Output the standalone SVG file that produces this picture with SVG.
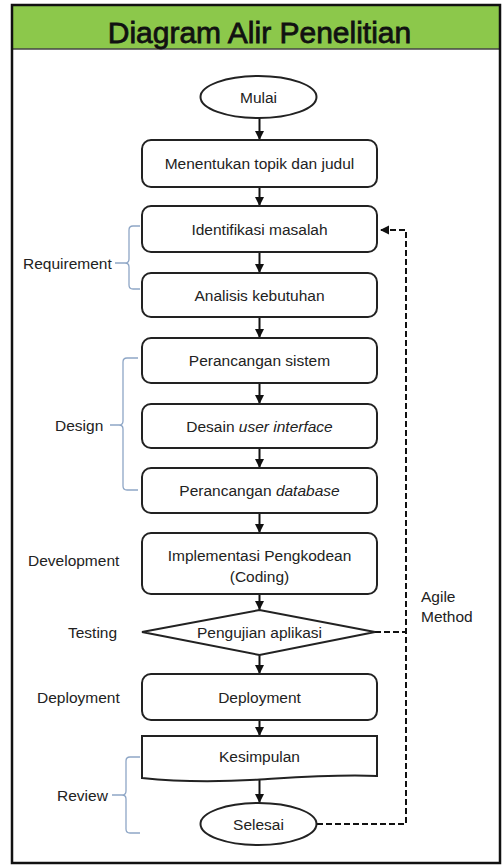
<svg xmlns="http://www.w3.org/2000/svg" width="502" height="866" viewBox="0 0 502 866">
<style>
.box{fill:#fff;stroke:#222;stroke-width:2}
.t{font-family:"Liberation Sans",Arial,sans-serif;font-size:15.5px;fill:#222}
.c{text-anchor:middle}
.it{font-style:italic}
.ln{fill:none;stroke:#111;stroke-width:2}
.dash{fill:none;stroke:#111;stroke-width:2;stroke-dasharray:6 3}
.brace{fill:none;stroke:#8ea6c6;stroke-width:1.3}
</style>
<defs>
<marker id="ah" markerUnits="userSpaceOnUse" markerWidth="10" markerHeight="10" refX="9" refY="5" orient="auto">
<path d="M0,0.5 L9,5 L0,9.5 Z" fill="#111"/>
</marker>
</defs>
<rect x="0" y="0" width="502" height="866" fill="#fff"/>
<g id="frame">
<rect x="12" y="5" width="488" height="44" fill="#8cc84b"/>
<line x1="12" y1="49" x2="500" y2="49" stroke="#444" stroke-width="1.5"/>
<rect x="12" y="5" width="488" height="858" fill="none" stroke="#111" stroke-width="2.5"/>
<text x="259.5" y="43" text-anchor="middle" font-family="'Liberation Sans',Arial,sans-serif" font-size="30" fill="#111" stroke="#111" stroke-width="0.8">Diagram Alir Penelitian</text>
</g>
<g id="connectors">
<line class="ln" x1="259.5" y1="118" x2="259.5" y2="140" marker-end="url(#ah)"/>
<line class="ln" x1="259.5" y1="187" x2="259.5" y2="206" marker-end="url(#ah)"/>
<line class="ln" x1="259.5" y1="252" x2="259.5" y2="273" marker-end="url(#ah)"/>
<line class="ln" x1="259.5" y1="317" x2="259.5" y2="338" marker-end="url(#ah)"/>
<line class="ln" x1="259.5" y1="383" x2="259.5" y2="404" marker-end="url(#ah)"/>
<line class="ln" x1="259.5" y1="448" x2="259.5" y2="468" marker-end="url(#ah)"/>
<line class="ln" x1="259.5" y1="513" x2="259.5" y2="533" marker-end="url(#ah)"/>
<line class="ln" x1="259.5" y1="594" x2="259.5" y2="610" marker-end="url(#ah)"/>
<line class="ln" x1="259.5" y1="655" x2="259.5" y2="674" marker-end="url(#ah)"/>
<line class="ln" x1="259.5" y1="720" x2="259.5" y2="736" marker-end="url(#ah)"/>
<line class="ln" x1="259.5" y1="780" x2="259.5" y2="803" marker-end="url(#ah)"/>
<path class="dash" d="M317,824 H406 V230 H380" marker-end="url(#ah)"/>
<line class="dash" x1="375" y1="632" x2="406" y2="632"/>
</g>
<g id="mulai">
<ellipse class="box" cx="258.5" cy="97" rx="58" ry="21"/>
<text class="t c" x="258.5" y="102.5">Mulai</text>
</g>
<g id="topik">
<rect class="box" x="142" y="140" width="235" height="47" rx="9"/>
<text class="t c" x="259.5" y="169">Menentukan topik dan judul</text>
</g>
<g id="identifikasi">
<rect class="box" x="142" y="206" width="235" height="46" rx="9"/>
<text class="t c" x="259.5" y="234.5">Identifikasi masalah</text>
</g>
<g id="analisis">
<rect class="box" x="142" y="273" width="235" height="44" rx="9"/>
<text class="t c" x="259.5" y="300.5">Analisis kebutuhan</text>
</g>
<g id="perancangan-sistem">
<rect class="box" x="142" y="338" width="235" height="45" rx="9"/>
<text class="t c" x="259.5" y="366">Perancangan sistem</text>
</g>
<g id="desain-ui">
<rect class="box" x="142" y="404" width="235" height="44" rx="9"/>
<text class="t c" x="259.5" y="431.5">Desain <tspan class="it">user interface</tspan></text>
</g>
<g id="perancangan-db">
<rect class="box" x="142" y="468" width="235" height="45" rx="9"/>
<text class="t c" x="259.5" y="496">Perancangan <tspan class="it">database</tspan></text>
</g>
<g id="implementasi">
<rect class="box" x="142" y="533" width="235" height="61" rx="9"/>
<text class="t c" x="259.5" y="560.5">Implementasi Pengkodean</text>
<text class="t c" x="259.5" y="581.5">(Coding)</text>
</g>
<g id="pengujian">
<path class="box" d="M142,632 L259.5,610 L375,632 L259.5,655 Z"/>
<text class="t c" x="259.5" y="638">Pengujian aplikasi</text>
</g>
<g id="deployment">
<rect class="box" x="142" y="674" width="235" height="46" rx="9"/>
<text class="t c" x="259.5" y="702.5">Deployment</text>
</g>
<g id="kesimpulan">
<path class="box" d="M142,736 H377 V776 C340,774 300,777 260,779.5 C220,782 180,782 142,778 Z"/>
<text class="t c" x="259.5" y="762">Kesimpulan</text>
</g>
<g id="selesai">
<ellipse class="box" cx="258.5" cy="824" rx="58" ry="21"/>
<text class="t c" x="258.5" y="829.5">Selesai</text>
</g>
<g id="labels">
<text class="t" x="23" y="268.5">Requirement</text>
<path class="brace" d="M115,263 H125 M140,226 H133 Q129,226 129,230 V259 Q129,263 125,263 Q129,263 129,267 V285 Q129,289 133,289 H140"/>
<text class="t" x="55" y="430.5">Design</text>
<path class="brace" d="M110,425 H119 M138,358 H127 Q123,358 123,362 V421 Q123,425 119,425 Q123,425 123,429 V486 Q123,490 127,490 H138"/>
<text class="t" x="28" y="565.5">Development</text>
<text class="t" x="68" y="637.5">Testing</text>
<text class="t" x="37" y="702.5">Deployment</text>
<text class="t" x="57" y="800.5">Review</text>
<path class="brace" d="M112,795 H122 M140,757 H130 Q126,757 126,761 V791 Q126,795 122,795 Q126,795 126,799 V829 Q126,833 130,833 H140"/>
<text class="t" x="421" y="602">Agile</text>
<text class="t" x="421" y="621.5">Method</text>
</g>
</svg>
